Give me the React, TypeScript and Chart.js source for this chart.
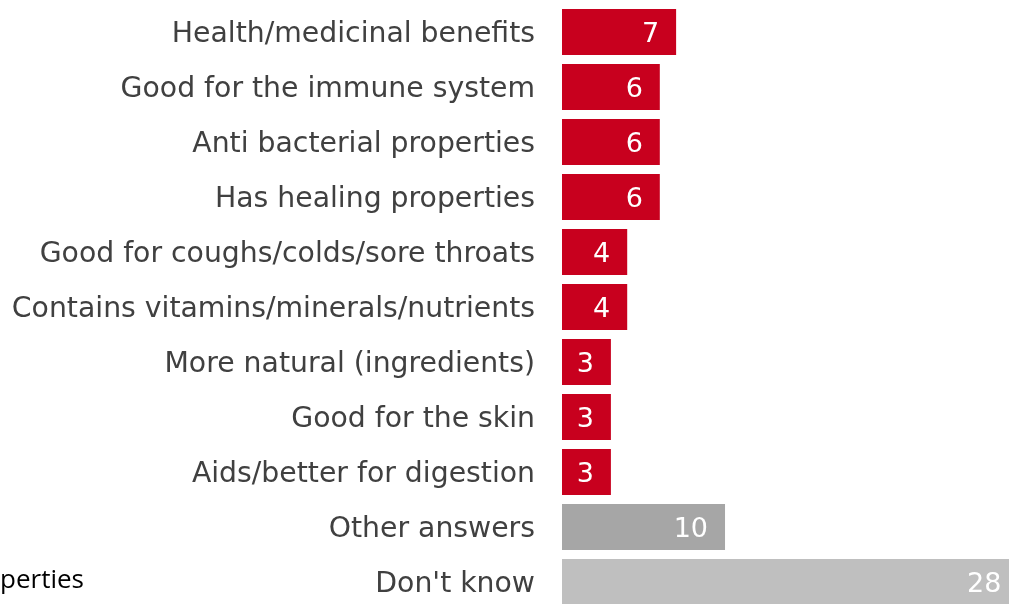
import React, { useEffect, useRef } from "react";
import { Chart, registerables } from "chart.js";

Chart.register(...registerables);

const categories = [
  "Health/medicinal benefits",
  "Good for the immune system",
  "Anti bacterial properties",
  "Has healing properties",
  "Good for coughs/colds/sore throats",
  "Contains vitamins/minerals/nutrients",
  "More natural (ingredients)",
  "Good for the skin",
  "Aids/better for digestion",
  "Other answers",
  "Don't know",
];
const values = [7, 6, 6, 6, 4, 4, 3, 3, 3, 10, 28];
const barColors = [
  "#C8001E", "#C8001E", "#C8001E", "#C8001E", "#C8001E", "#C8001E",
  "#C8001E", "#C8001E", "#C8001E", "#A6A6A6", "#BFBFBF",
];
const fragmentText = "perties";

const textLabels = {
  id: "textLabels",
  afterDatasetsDraw(chart: any) {
    const ctx = chart.ctx;
    const meta = chart.getDatasetMeta(0);
    const yScale = chart.scales.y;
    ctx.save();
    // category labels
    ctx.font = "28.3px 'DejaVu Sans'";
    ctx.fillStyle = "#404040";
    ctx.textAlign = "right";
    ctx.textBaseline = "middle";
    categories.forEach((c, i) => {
      ctx.fillText(c, chart.chartArea.left - 27, yScale.getPixelForValue(i) + 3);
    });
    // value labels
    ctx.font = "27px 'DejaVu Sans'";
    ctx.fillStyle = "#FFFFFF";
    meta.data.forEach((bar: any, i: number) => {
      const xEnd = chart.scales.x.getPixelForValue(values[i]);
      ctx.fillText(String(values[i]), xEnd - 17, bar.y + 3);
    });
    ctx.restore();
  },
};

export default function App() {
  const ref = useRef<HTMLCanvasElement>(null);
  useEffect(() => {
    if (!ref.current) return;
    const chart = new Chart(ref.current, {
      type: "bar",
      data: {
        labels: categories,
        datasets: [
          {
            data: values,
            backgroundColor: barColors,
            borderWidth: 0,
            barPercentage: 1,
            categoryPercentage: 0.836,
          },
        ],
      },
      options: {
        indexAxis: "y",
        animation: false,
        responsive: false,
        maintainAspectRatio: false,
        layout: { padding: { top: 4.5, bottom: 2.5, left: 0, right: 0 } },
        plugins: {
          legend: { display: false },
          tooltip: { enabled: false },
        },
        scales: {
          x: {
            display: false,
            min: 0,
            max: 27.42,
          },
          y: {
            grid: { display: false, drawTicks: false },
            border: { display: false },
            ticks: { display: false },
            afterFit(scale: any) {
              scale.width = 562;
              scale.paddingTop = 0;
              scale.paddingBottom = 0;
            },
          },
        },
      },
      plugins: [textLabels],
    });
    return () => chart.destroy();
  }, []);

  return (
    <div
      style={{
        position: "absolute",
        left: 0,
        top: 0,
        width: 1009,
        height: 604,
        overflow: "hidden",
        background: "#FFFFFF",
      }}
    >
      <canvas ref={ref} width={1009} height={612} style={{ display: "block" }} />
      <div
        style={{
          position: "absolute",
          left: 0,
          top: 564,
          fontFamily: "'Open Sans', sans-serif",
          fontSize: 26,
          color: "#000000",
          lineHeight: "28px",
          whiteSpace: "nowrap",
        }}
      >
        {fragmentText}
      </div>
    </div>
  );
}
